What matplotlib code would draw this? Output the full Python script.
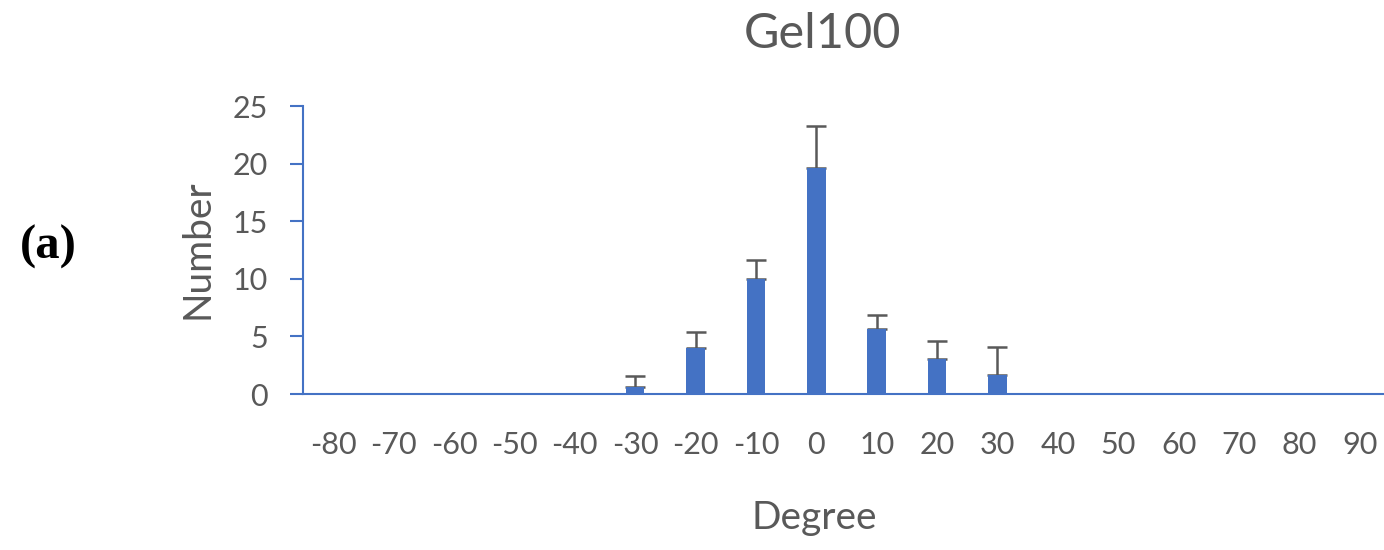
import numpy as np
import matplotlib.pyplot as plt

degrees = [-80, -70, -60, -50, -40, -30, -20, -10, 0, 10, 20, 30, 40, 50, 60, 70, 80, 90]
counts = [0, 0, 0, 0, 0, 0.6, 4.0, 10.0, 19.6, 5.6, 3.0, 1.65, 0, 0, 0, 0, 0, 0]
errors = [0, 0, 0, 0, 0, 1.0, 1.4, 1.6, 3.7, 1.25, 1.6, 2.4, 0, 0, 0, 0, 0, 0]

blue = '#4472C4'
grey = '#595959'
plt.rcParams['font.family'] = ['Lato', 'DejaVu Sans']

fig = plt.figure(figsize=(13.84, 5.5), dpi=100)
# right end of the axis runs slightly past the figure edge, as in the original
ax = fig.add_axes([303/1384, 1 - 394/550, (1390 - 303)/1384, (394 - 106)/550])

x = np.arange(len(degrees))
ax.bar(x, counts, width=0.31, color=blue, zorder=2)
# error bars drawn under the bars so the lower cap hides behind the bar top
ax.errorbar(x, counts, yerr=[np.zeros(len(errors)), errors], fmt='none',
            ecolor=grey, elinewidth=1.8, capsize=7, capthick=1.8, zorder=1)

ax.set_xlim(-0.5, len(degrees) - 0.5)
ax.set_ylim(0, 25)
ax.set_yticks([0, 5, 10, 15, 20, 25])
ax.set_xticks(x)
ax.set_xticklabels([str(d) for d in degrees])

for s in ['top', 'right']:
    ax.spines[s].set_visible(False)
for s in ['left', 'bottom']:
    ax.spines[s].set_color(blue)
    ax.spines[s].set_linewidth(1.5)

ax.tick_params(axis='y', colors=grey, labelsize=22, length=9.5, width=1.5,
               color=blue, pad=16)
ax.tick_params(axis='x', colors=grey, labelsize=22, length=0, pad=27)

fig.text(823/1384, 1 - 34/550, 'Gel100', ha='center', va='center', fontsize=35, color=grey)
fig.text(814/1384, 1 - 518/550, 'Degree', ha='center', va='center', fontsize=28, color=grey)
fig.text(198/1384, 1 - 249/550, 'Number', ha='center', va='center', fontsize=28,
         color=grey, rotation=90)
fig.text(48/1384, 1 - 247/550, '(a)', ha='center', va='center', fontsize=35,
         fontweight='bold', family='Liberation Serif', color='black')

fig.savefig('out.png', dpi=100)
